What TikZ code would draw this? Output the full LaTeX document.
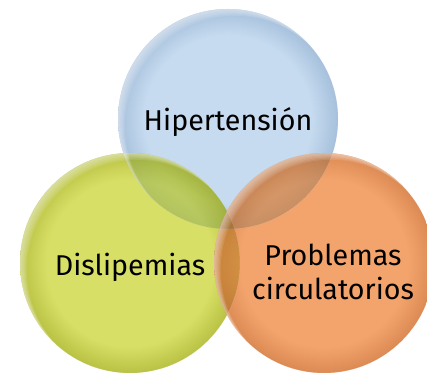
\documentclass[tikz,border=0pt]{standalone}
\usepackage{fontspec}
\setmainfont{Fira Sans}
\definecolor{hblue}{HTML}{C6DBEF}
\definecolor{hbluerim}{HTML}{A6C0DC}
\definecolor{dgreen}{HTML}{D8DF66}
\definecolor{dgreenrim}{HTML}{B9C244}
\definecolor{porange}{HTML}{F3A46C}
\definecolor{porangerim}{HTML}{DC8A54}
\pgfdeclareradialshading{blueball}{\pgfpoint{0bp}{0bp}}{color(0bp)=(hblue); color(19bp)=(hblue); color(25bp)=(hbluerim); color(50bp)=(hbluerim)}
\pgfdeclareradialshading{greenball}{\pgfpoint{0bp}{0bp}}{color(0bp)=(dgreen); color(19bp)=(dgreen); color(25bp)=(dgreenrim); color(50bp)=(dgreenrim)}
\pgfdeclareradialshading{orangeball}{\pgfpoint{0bp}{0bp}}{color(0bp)=(porange); color(19bp)=(porange); color(25bp)=(porangerim); color(50bp)=(porangerim)}
\tikzset{
  x=0.75pt,y=0.75pt,
  c/.style={circle,minimum size=165pt,inner sep=0pt},
  mc/.style={c,blend mode=multiply},
  hl/.style={white,fill opacity=0.1,even odd rule},
  t/.style={font=\fontsize{21.5}{26}\selectfont,align=center,text=black},
}

\begin{document}
\begin{tikzpicture}
\useasboundingbox (0,0) rectangle (427,373);
% multiply layer
\node[mc,shading=blueball] (hc) at (228,254){}; \node[mc,shading=greenball] (dc) at (130,110){};
\node[mc,shading=orangeball] (pc) at (324,110){};
% plain layer on top
\begin{scope}[transparency group,opacity=0.5]
\node[c,shading=blueball] (hc2) at (hc){}; \node[c,shading=greenball] (dc2) at (dc){};
\node[c,shading=orangeball] (pc2) at (pc){};
\end{scope}
% light rims, top left
\foreach \n in {hc,dc,pc}{
  \begin{scope}
  \clip (\n.center) circle[radius=110];
  \foreach \k in {1,...,6}
    \fill[hl] (\n.center) circle[radius=110] ([shift={(-45:\k*1.6)}]\n.center) circle[radius=110];
  \end{scope}
}
\node[t] (ht) at (228,251){Hipertensión}; \node[t] (dt) at (130,106){Dislipemias};
\node[t] (pt) at (333,101){Problemas\\circulatorios};
\end{tikzpicture}
\end{document}
